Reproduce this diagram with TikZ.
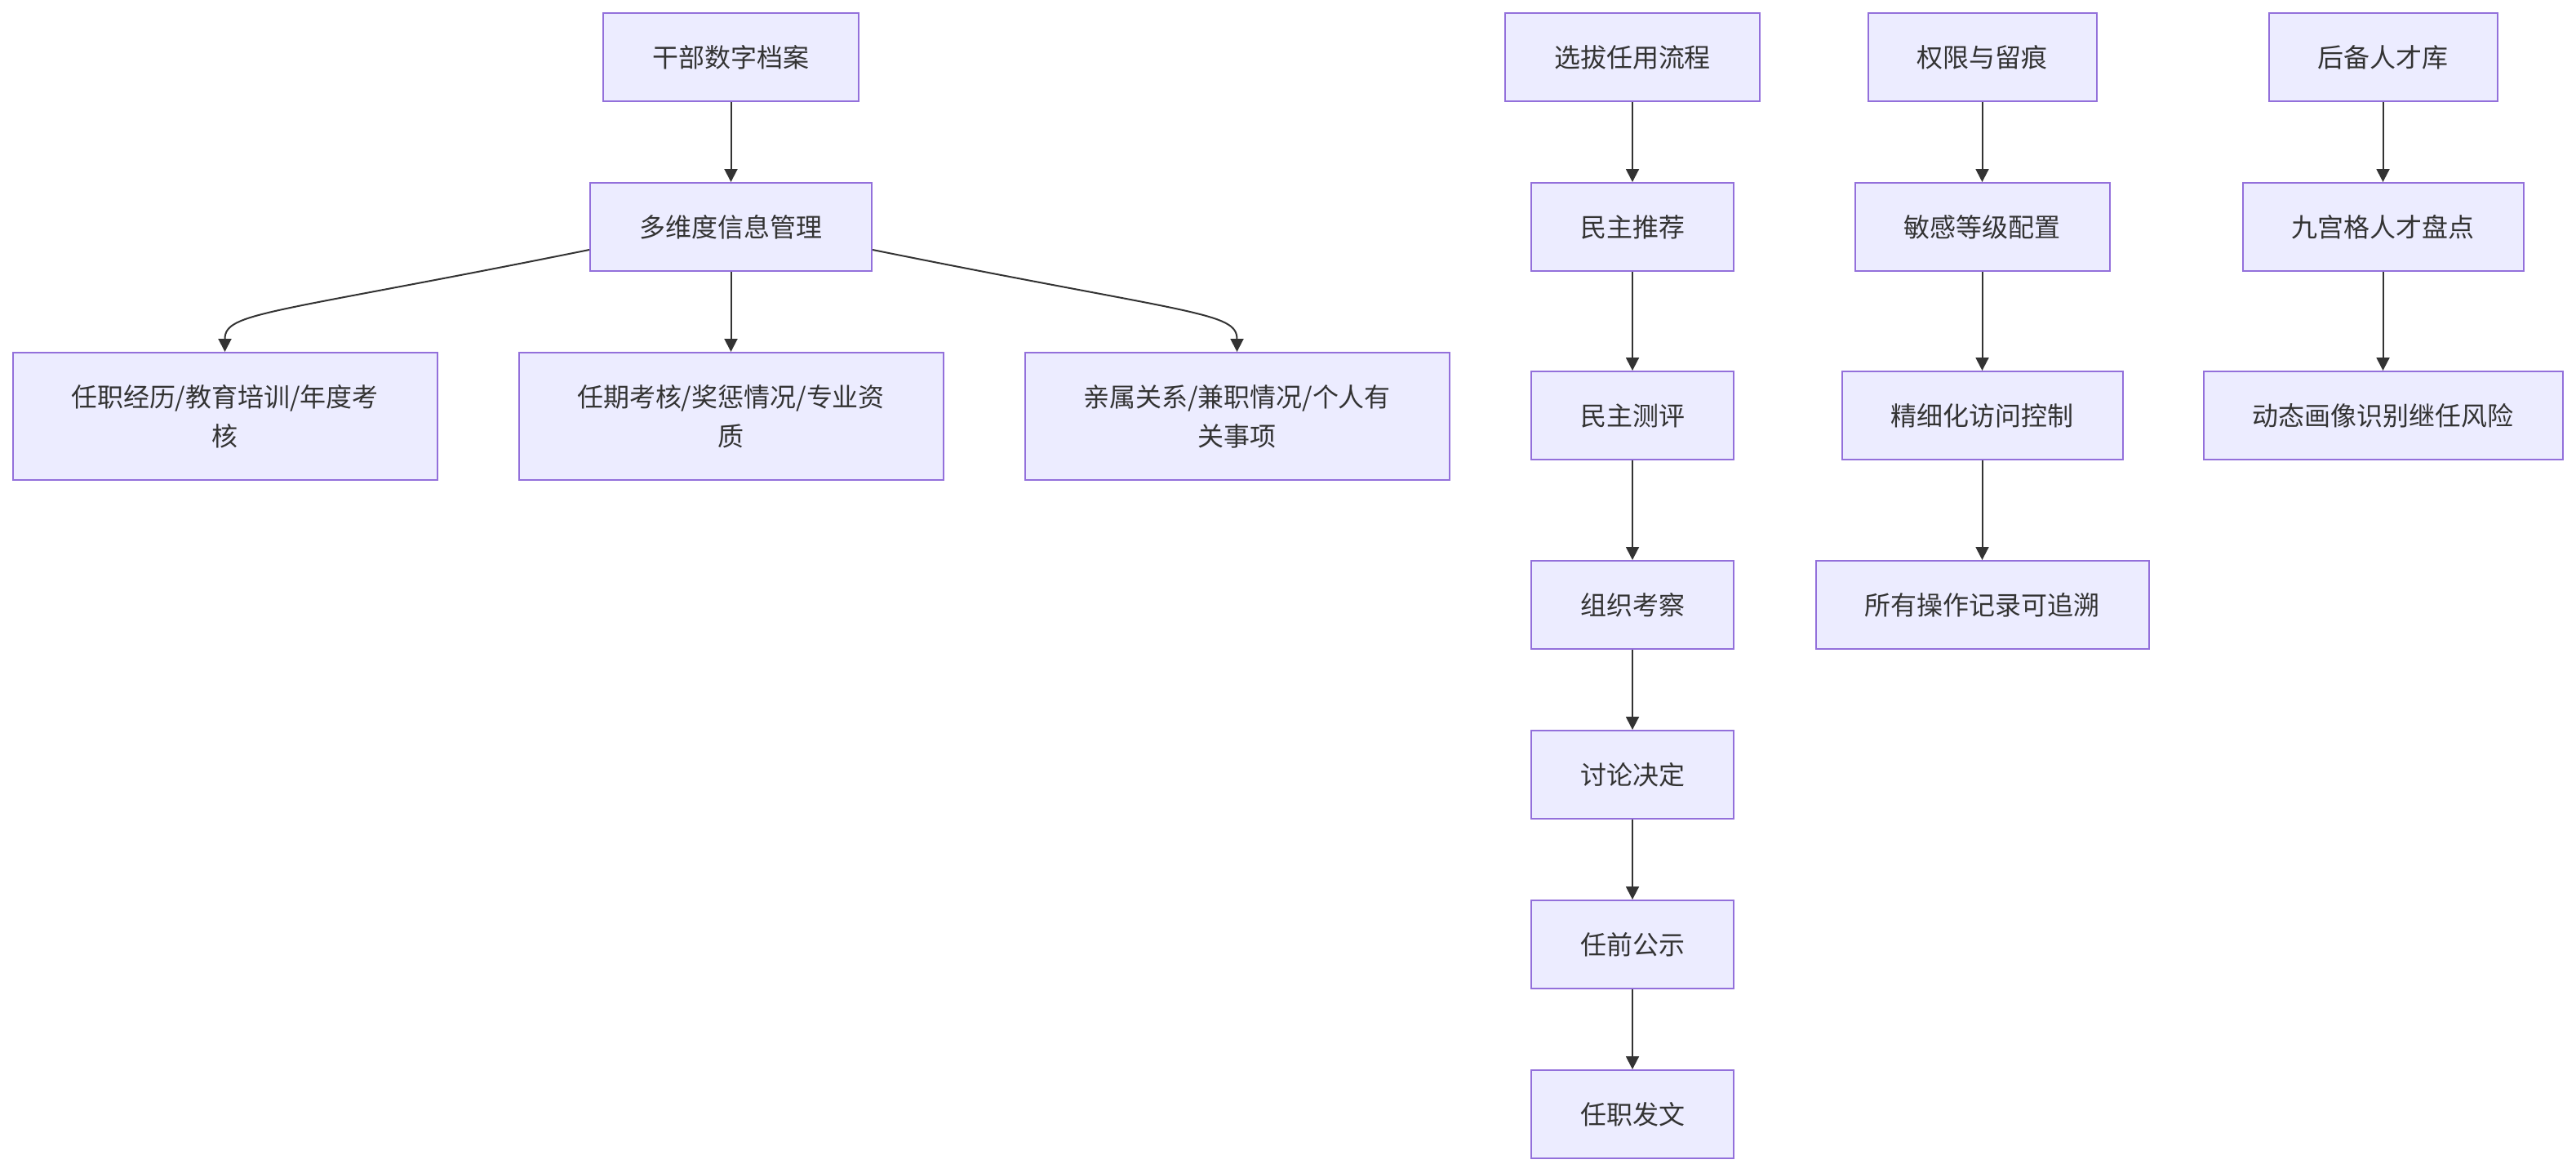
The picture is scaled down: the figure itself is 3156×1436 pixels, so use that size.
\documentclass[tikz,border=0pt]{standalone}
\usepackage{fontspec}
\newfontfamily\cjk{Noto Sans CJK SC}
\usetikzlibrary{arrows.meta}
\definecolor{boxfill}{HTML}{ECECFF}
\definecolor{boxline}{HTML}{9370DB}
\definecolor{txt}{HTML}{333333}
\definecolor{edge}{HTML}{333333}
\tikzset{
  box/.style={rectangle, draw=boxline, fill=boxfill, line width=0.4mm, text=txt,
    font=\cjk\fontsize{18.2}{27.3}\selectfont, align=center, inner sep=0pt,
    minimum height=108*0.2mm},
  tallbox/.style={box, minimum height=156*0.2mm, minimum width=520*0.2mm},
  link/.style={draw=edge, line width=0.4mm, -{Triangle[length=3.2mm,width=3.2mm]}}
}
\begin{document}
\begin{tikzpicture}[x=0.2mm,y=-0.2mm]
\useasboundingbox (0,0) rectangle (3156,1436);
% column 1
\node[box, minimum width=313*0.2mm] (a) at (895.5,70) {干部数字档案};
\node[box, minimum width=345*0.2mm] (b) at (895.5,278) {多维度信息管理};
\node[tallbox] (c1) at (275.5,510) {任职经历/教育培训/年度考\\核};
\node[tallbox] (c2) at (895.5,510) {任期考核/奖惩情况/专业资\\质};
\node[tallbox] (c3) at (1515.5,510) {亲属关系/兼职情况/个人有\\关事项};
% column 2
\node[box, minimum width=312*0.2mm] (d0) at (2000,70) {选拔任用流程};
\node[box, minimum width=248*0.2mm] (d1) at (2000,278) {民主推荐};
\node[box, minimum width=248*0.2mm] (d2) at (2000,509) {民主测评};
\node[box, minimum width=248*0.2mm] (d3) at (2000,741) {组织考察};
\node[box, minimum width=248*0.2mm] (d4) at (2000,949) {讨论决定};
\node[box, minimum width=248*0.2mm] (d5) at (2000,1157) {任前公示};
\node[box, minimum width=248*0.2mm] (d6) at (2000,1365) {任职发文};
% column 3
\node[box, minimum width=280*0.2mm] (e0) at (2428.5,70) {权限与留痕};
\node[box, minimum width=312*0.2mm] (e1) at (2428.5,278) {敏感等级配置};
\node[box, minimum width=344*0.2mm] (e2) at (2428.5,509) {精细化访问控制};
\node[box, minimum width=408*0.2mm] (e3) at (2428.5,741) {所有操作记录可追溯};
% column 4
\node[box, minimum width=280*0.2mm] (f0) at (2919.5,70) {后备人才库};
\node[box, minimum width=344*0.2mm] (f1) at (2919.5,278) {九宫格人才盘点};
\node[box, minimum width=440*0.2mm] (f2) at (2919.5,509) {动态画像识别继任风险};
% edges
\draw[link] (a) -- (b);
\draw[link] (b) -- (c2);
\coordinate (bl) at ([yshift=-28*0.2mm]b.west);
\coordinate (br) at ([yshift=-28*0.2mm]b.east);
\draw[link] (bl) .. controls (330,385) and (275.5,382) .. (c1.north);
\draw[link] (br) .. controls (1461,385) and (1515.5,382) .. (c3.north);
\draw[link] (d0) -- (d1);
\draw[link] (d1) -- (d2);
\draw[link] (d2) -- (d3);
\draw[link] (d3) -- (d4);
\draw[link] (d4) -- (d5);
\draw[link] (d5) -- (d6);
\draw[link] (e0) -- (e1);
\draw[link] (e1) -- (e2);
\draw[link] (e2) -- (e3);
\draw[link] (f0) -- (f1);
\draw[link] (f1) -- (f2);
\end{tikzpicture}
\end{document}
